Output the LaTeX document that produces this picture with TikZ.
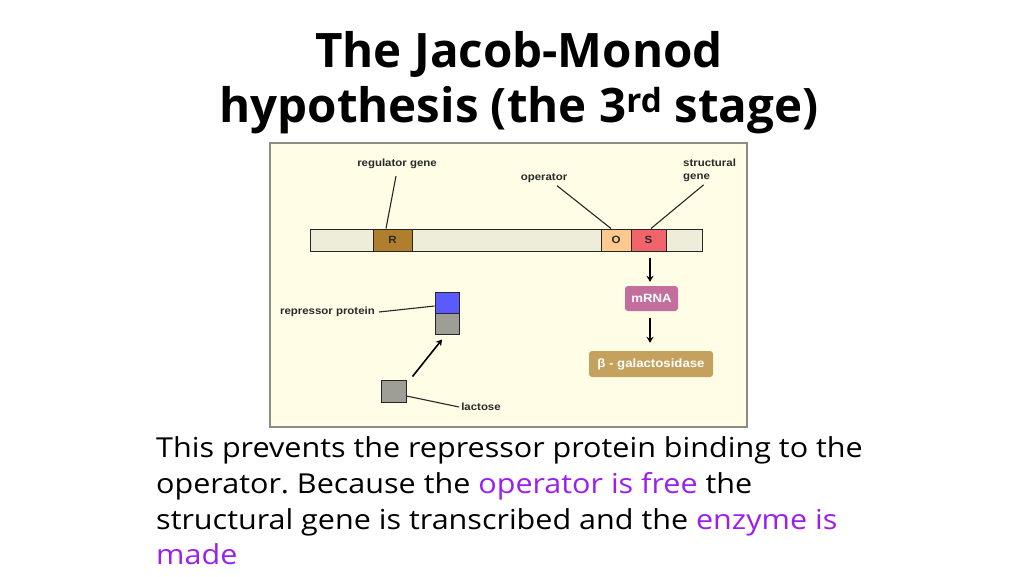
\documentclass[tikz,border=0pt]{standalone}
\usepackage{fontspec}
\setmainfont{Open Sans}
\newfontfamily\bodyfont[FakeStretch=1.11]{Open Sans}
\newfontfamily\labfont[FakeStretch=1.1]{Liberation Sans}
\usetikzlibrary{arrows.meta}
\definecolor{panelfill}{HTML}{FFFDE6}
\definecolor{panelline}{HTML}{8C8C80}
\definecolor{barfill}{HTML}{EEEDDA}
\definecolor{rfill}{HTML}{B07F2E}
\definecolor{ofill}{HTML}{FDC98F}
\definecolor{sfill}{HTML}{F2646C}
\definecolor{bluefill}{HTML}{5A5AFF}
\definecolor{grayfill}{HTML}{9E9E96}
\definecolor{mrnafill}{HTML}{C46E9E}
\definecolor{galfill}{HTML}{C4A25E}
\definecolor{labtext}{HTML}{2A2A2A}
\definecolor{purp}{HTML}{9B20F0}
\tikzset{
  box/.style={draw=black!85, line width=1pt, inner sep=0pt},
  lab/.style={font=\labfont\bfseries\fontsize{10.4}{12}\selectfont, text=labtext, inner sep=0pt},
  boxlet/.style={font=\labfont\bfseries\fontsize{10.5}{12}\selectfont, text=labtext},
  pill/.style={inner sep=0pt, rounded corners=3pt, text=white, font=\labfont\bfseries\fontsize{12}{12}\selectfont},
  lead/.style={draw=black!85, line width=1.1pt},
  arr/.style={draw=black, line width=1.6pt, -{Stealth[length=6pt,width=7pt]}},
  body/.style={anchor=base west, inner sep=0pt, font=\bodyfont\fontsize{27.5}{30}\selectfont},
  ttl/.style={anchor=base, inner sep=0pt, font=\bfseries\fontsize{47.5}{50}\selectfont}
}
\frenchspacing
\begin{document}
\begin{tikzpicture}[x=1pt,y=-1pt]
\useasboundingbox (0,0) rectangle (1024,576);
% title
\node[ttl] (t1) at (519,67) {The Jacob-Monod};
\node[ttl] (t2) at (519,122) {hypothesis (the 3\textsuperscript{rd} stage)};
% panel
\node[draw=panelline, fill=panelfill, line width=1.4pt, minimum width=477pt, minimum height=284pt, inner sep=0pt] (panel) at (508.5,285) {};
% DNA bar
\node[box, fill=barfill, minimum width=392pt, minimum height=22pt] (bar) at (506,240) {};
\node[box, fill=rfill, minimum width=39pt, minimum height=22pt, boxlet] (R) at (392.5,240) {R};
\node[box, fill=ofill, minimum width=30pt, minimum height=22pt, boxlet] (O) at (616,240) {O};
\node[box, fill=sfill, minimum width=35pt, minimum height=22pt, boxlet] (S) at (648.5,240) {S};
% labels
\node[lab] (reglab) at (397,164) {regulator gene};
\node[lab] (oplab) at (544,178) {operator};
\node[lab, anchor=west, align=left, font=\labfont\bfseries\fontsize{10.4}{12.5}\selectfont] (stlab) at (683,170.5) {structural\\gene};
\draw[lead] ([xshift=-1pt,yshift=-7pt]reglab.south) -- ([xshift=-6.5pt]R.north);
\draw[lead] ([xshift=13pt,yshift=-3pt]oplab.south) -- ([xshift=-5pt]O.north);
\draw[lead] ([xshift=-6pt,yshift=-3pt]stlab.south) -- ([xshift=2.5pt]S.north);
% mRNA pathway
\node[pill, fill=mrnafill, minimum width=53pt, minimum height=25pt] (mrna) at (651.5,298.5) {mRNA};
\node[pill, fill=galfill, minimum width=124pt, minimum height=26pt] (gal) at (651,364) {β - galactosidase};
\draw[arr] ([xshift=1.5pt,yshift=-6pt]S.south) -- ([xshift=-1.5pt,yshift=4pt]mrna.north);
\draw[arr] ([xshift=-1.5pt,yshift=-7pt]mrna.south) -- ([xshift=-1pt,yshift=8pt]gal.north);
% repressor
\node[box, fill=bluefill, minimum width=24pt, minimum height=21pt] (blue) at (447,302.5) {};
\node[box, fill=grayfill, minimum width=24pt, minimum height=21pt] (gray) at (447,323.5) {};
\node[lab, anchor=east] (replab) at (375,312) {repressor protein};
\draw[lead] ([xshift=4pt]replab.east) -- ([yshift=-3.5pt]blue.west);
% lactose
\node[box, fill=grayfill, minimum width=25pt, minimum height=22pt] (lac) at (393.5,391) {};
\node[lab] (laclab) at (481,407) {lactose};
\draw[lead] ([yshift=-5pt]lac.east) -- ([xshift=-2pt]laclab.west);
\draw[arr] ([xshift=6pt,yshift=3pt]lac.north east) -- ([xshift=-5pt,yshift=-5pt]gray.south);
% body text
\node[body] (l1) at (156,457) {This prevents the repressor protein binding to the};
\node[body] (l2) at (156,493) {operator. Because the \textcolor{purp}{operator is free} the};
\node[body] (l3) at (156,529) {structural gene is transcribed and the \textcolor{purp}{enzyme is}};
\node[body] (l4) at (156,564) {\textcolor{purp}{made}};
\end{tikzpicture}
\end{document}
